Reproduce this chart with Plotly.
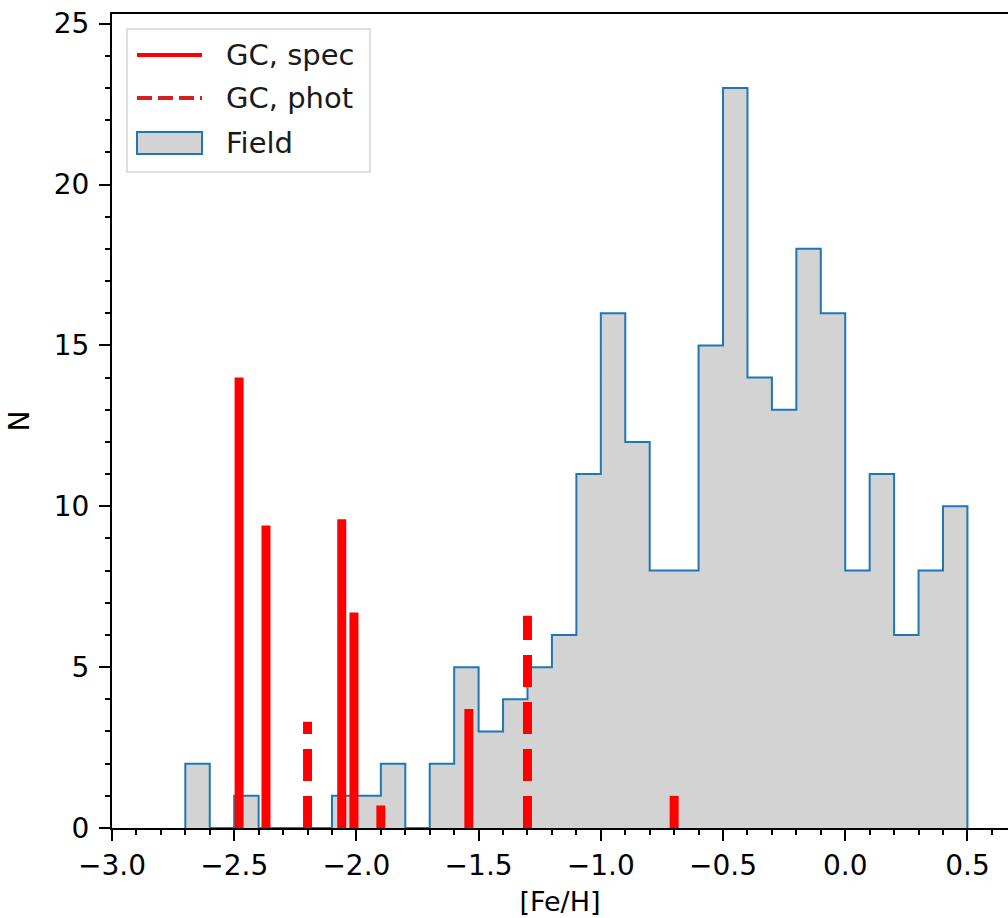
import plotly.graph_objects as go

# ---------------- data ----------------
bin_edges = [-2.7, -2.6, -2.5, -2.4, -2.3, -2.2, -2.1, -2.0, -1.9, -1.8, -1.7,
             -1.6, -1.5, -1.4, -1.3, -1.2, -1.1, -1.0, -0.9, -0.8, -0.7,
             -0.6, -0.5, -0.4, -0.3, -0.2, -0.1, 0.0, 0.1, 0.2, 0.3, 0.4, 0.5]
field_counts = [2, 0, 1, 0, 0, 0, 1, 1, 2, 0,
                2, 5, 3, 4, 5, 6, 11, 16, 12, 8,
                8, 15, 23, 14, 13, 18, 16, 8, 11, 6,
                8, 10]

gc_spec_feh = [-2.48, -2.37, -2.06, -2.01, -1.90, -1.54, -0.70]
gc_spec_n = [14.0, 9.4, 9.6, 6.7, 0.7, 3.7, 1.0]

gc_phot_feh = [-2.20, -1.30]
gc_phot_n = [3.3, 6.6]

x_ticks = [-3.0, -2.5, -2.0, -1.5, -1.0, -0.5, 0.0, 0.5]
y_ticks = [0, 5, 10, 15, 20, 25]

# ---------------- styles ----------------
FONT = "DejaVu Sans"
FS = 28
LFS = 29
RED = "#ff0000"
C0 = "#1f77b4"

fig = go.Figure()

# stepfilled histogram outline built from the bin edges / counts
hx = [bin_edges[0]]
hy = [0]
for i, c in enumerate(field_counts):
    hx += [bin_edges[i], bin_edges[i + 1]]
    hy += [c, c]
hx.append(bin_edges[-1])
hy.append(0)

fig.add_trace(go.Scatter(
    x=hx, y=hy, mode="lines", fill="toself", fillcolor="#d3d3d3",
    line=dict(color=C0, width=2), name="Field", showlegend=False,
    hoverinfo="skip"))

for fx, n in zip(gc_spec_feh, gc_spec_n):
    fig.add_trace(go.Scatter(x=[fx, fx], y=[0, n], mode="lines",
                             line=dict(color=RED, width=9),
                             showlegend=False, name="GC, spec"))
for fx, n in zip(gc_phot_feh, gc_phot_n):
    fig.add_trace(go.Scatter(x=[fx, fx], y=[0, n], mode="lines",
                             line=dict(color=RED, width=9, dash="32px,15px"),
                             showlegend=False, name="GC, phot"))

# ---------------- manual legend (pixel offsets from top-left of plot) ----------------
shapes = []
def px_shape(kind, x0, x1, y0, y1, **kw):
    d = dict(type=kind, xref="paper", yref="paper", xsizemode="pixel",
             ysizemode="pixel", xanchor=0, yanchor=1,
             x0=x0, x1=x1, y0=y0, y1=y1)
    d.update(kw)
    return d

shapes.append(px_shape("rect", 15, 258, -15, -158,
                       line=dict(color="#d5d5d5", width=1.5),
                       fillcolor="rgba(255,255,255,0.85)", layer="above"))
shapes.append(px_shape("line", 25, 90, -41, -41,
                       line=dict(color=RED, width=4), layer="above"))
shapes.append(px_shape("line", 25, 90, -84, -84,
                       line=dict(color="#d62020", width=4, dash="15px,6px"),
                       layer="above"))
shapes.append(px_shape("rect", 25, 90, -118, -140,
                       line=dict(color=C0, width=2), fillcolor="#d3d3d3",
                       layer="above"))

legend_labels = ["GC, spec", "GC, phot", "Field"]
legend_offsets = [-41, -84, -129]
annotations = []
for lab, off in zip(legend_labels, legend_offsets):
    annotations.append(dict(text=lab, xref="paper", yref="paper", x=0, y=1,
                            xanchor="left", yanchor="middle", xshift=112,
                            yshift=off, showarrow=False,
                            font=dict(family=FONT, size=LFS, color="#1a1a1a")))

fig.update_layout(
    width=1008, height=918,
    margin=dict(l=112, r=0, t=14, b=90),
    paper_bgcolor="white", plot_bgcolor="white",
    font=dict(family=FONT, size=FS, color="black"),
    showlegend=False,
    shapes=shapes, annotations=annotations,
    xaxis=dict(
        range=[-3.0, 0.666], tickvals=x_ticks, tickformat=".1f",
        ticks="outside", ticklen=11, tickwidth=2, tickcolor="black",
        showline=True, linecolor="black", linewidth=2, mirror=True,
        showgrid=False, zeroline=False, layer="above traces",
        minor=dict(dtick=0.1, tick0=-3.0, ticks="outside", ticklen=5,
                   tickwidth=2, tickcolor="black", showgrid=False),
        title=dict(text="[Fe/H]", font=dict(family=FONT, size=27), standoff=12),
        tickfont=dict(family=FONT, size=FS, color="black"),
    ),
    yaxis=dict(
        range=[0, 25.3], tickvals=y_ticks,
        ticks="outside", ticklen=11, tickwidth=2, tickcolor="black",
        showline=True, linecolor="black", linewidth=2, mirror=False,
        showgrid=False, zeroline=False, ticklabelstandoff=4,
        ticklabeloverflow="allow", layer="above traces",
        minor=dict(dtick=1, tick0=0, ticks="outside", ticklen=5,
                   tickwidth=2, tickcolor="black", showgrid=False),
        title=dict(text="N", font=dict(family=FONT, size=28), standoff=16),
        tickfont=dict(family=FONT, size=FS, color="black"),
    ),
)

fig.write_html("out.html", config={"displayModeBar": False},
               post_script="document.body.style.margin='0';document.body.style.padding='0';")
